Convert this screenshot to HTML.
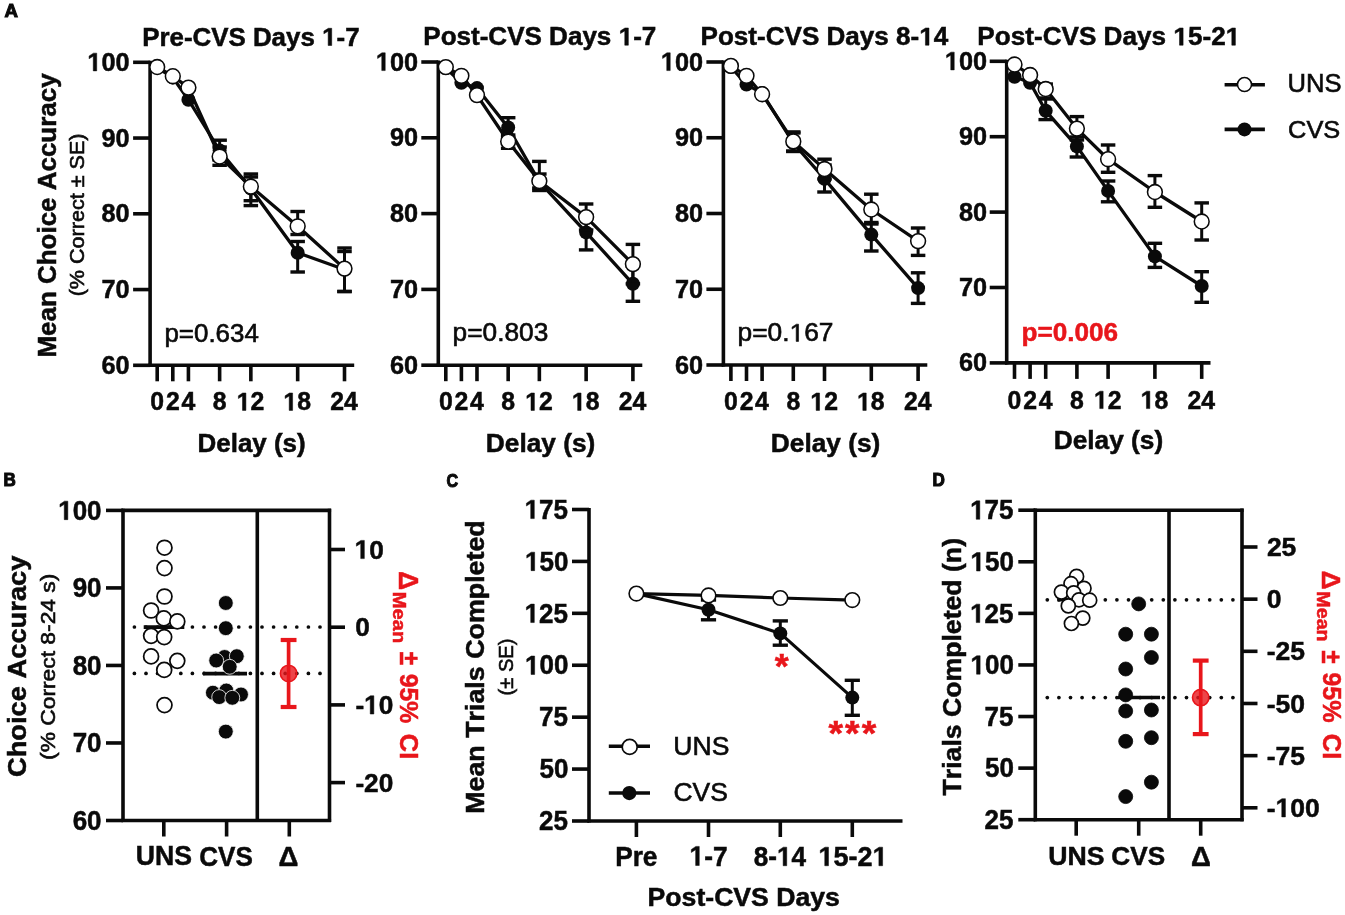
<!DOCTYPE html>
<html><head><meta charset="utf-8"><style>
html,body{margin:0;padding:0;background:#fff;}
svg{display:block;will-change:transform;}
text{font-family:"Liberation Sans",sans-serif;font-kerning:none;}
</style></head><body>
<svg width="1345" height="915" viewBox="0 0 1345 915">
<rect width="1345" height="915" fill="#fff"/>
<g transform="translate(4.44 16.80) scale(0.9711 1)" fill="#0a0a0a" stroke="#0a0a0a"><text x="0.000" font-size="19.19" font-weight="bold" stroke-width="1.10">A</text></g>
<line x1="150.10" y1="60.70" x2="150.10" y2="366.90" stroke="#0a0a0a" stroke-width="3.60" stroke-linecap="butt"/>
<line x1="148.50" y1="365.30" x2="354.20" y2="365.30" stroke="#0a0a0a" stroke-width="3.60" stroke-linecap="butt"/>
<line x1="133.10" y1="62.30" x2="150.10" y2="62.30" stroke="#0a0a0a" stroke-width="3.60" stroke-linecap="butt"/>
<g transform="translate(87.35 70.88) scale(0.9800 1)" fill="#0a0a0a" stroke="#0a0a0a"><path transform="translate(0.000 0) scale(0.01260 -0.01260)" d="M478 0L478 1170L140 959L140 1180L493 1409L759 1409L759 0Z" stroke-width="39.69"/><text x="14.349" font-size="25.80" font-weight="bold" stroke-width="0.50">00</text></g>
<line x1="133.10" y1="138.05" x2="150.10" y2="138.05" stroke="#0a0a0a" stroke-width="3.60" stroke-linecap="butt"/>
<g transform="translate(101.41 146.63) scale(0.9800 1)" fill="#0a0a0a" stroke="#0a0a0a"><text x="0.000" font-size="25.80" font-weight="bold" stroke-width="0.50">90</text></g>
<line x1="133.10" y1="213.80" x2="150.10" y2="213.80" stroke="#0a0a0a" stroke-width="3.60" stroke-linecap="butt"/>
<g transform="translate(101.41 222.38) scale(0.9800 1)" fill="#0a0a0a" stroke="#0a0a0a"><text x="0.000" font-size="25.80" font-weight="bold" stroke-width="0.50">80</text></g>
<line x1="133.10" y1="289.55" x2="150.10" y2="289.55" stroke="#0a0a0a" stroke-width="3.60" stroke-linecap="butt"/>
<g transform="translate(101.41 298.13) scale(0.9800 1)" fill="#0a0a0a" stroke="#0a0a0a"><text x="0.000" font-size="25.80" font-weight="bold" stroke-width="0.50">70</text></g>
<line x1="133.10" y1="365.30" x2="150.10" y2="365.30" stroke="#0a0a0a" stroke-width="3.60" stroke-linecap="butt"/>
<g transform="translate(101.41 373.88) scale(0.9800 1)" fill="#0a0a0a" stroke="#0a0a0a"><text x="0.000" font-size="25.80" font-weight="bold" stroke-width="0.50">60</text></g>
<line x1="157.20" y1="365.30" x2="157.20" y2="381.30" stroke="#0a0a0a" stroke-width="3.60" stroke-linecap="butt"/>
<g transform="translate(150.32 410.40) scale(0.9800 1)" fill="#0a0a0a" stroke="#0a0a0a"><text x="0.000" font-size="25.30" font-weight="bold" stroke-width="0.50">0</text></g>
<line x1="172.81" y1="365.30" x2="172.81" y2="381.30" stroke="#0a0a0a" stroke-width="3.60" stroke-linecap="butt"/>
<g transform="translate(165.98 410.40) scale(0.9800 1)" fill="#0a0a0a" stroke="#0a0a0a"><text x="0.000" font-size="25.30" font-weight="bold" stroke-width="0.50">2</text></g>
<line x1="188.42" y1="365.30" x2="188.42" y2="381.30" stroke="#0a0a0a" stroke-width="3.60" stroke-linecap="butt"/>
<g transform="translate(181.40 410.40) scale(0.9800 1)" fill="#0a0a0a" stroke="#0a0a0a"><text x="0.000" font-size="25.30" font-weight="bold" stroke-width="0.50">4</text></g>
<line x1="219.63" y1="365.30" x2="219.63" y2="381.30" stroke="#0a0a0a" stroke-width="3.60" stroke-linecap="butt"/>
<g transform="translate(212.73 410.40) scale(0.9800 1)" fill="#0a0a0a" stroke="#0a0a0a"><text x="0.000" font-size="25.30" font-weight="bold" stroke-width="0.50">8</text></g>
<line x1="250.85" y1="365.30" x2="250.85" y2="381.30" stroke="#0a0a0a" stroke-width="3.60" stroke-linecap="butt"/>
<g transform="translate(236.71 410.40) scale(0.9800 1)" fill="#0a0a0a" stroke="#0a0a0a"><path transform="translate(0.000 0) scale(0.01235 -0.01235)" d="M478 0L478 1170L140 959L140 1180L493 1409L759 1409L759 0Z" stroke-width="40.47"/><text x="14.071" font-size="25.30" font-weight="bold" stroke-width="0.50">2</text></g>
<line x1="297.67" y1="365.30" x2="297.67" y2="381.30" stroke="#0a0a0a" stroke-width="3.60" stroke-linecap="butt"/>
<g transform="translate(283.42 410.40) scale(0.9800 1)" fill="#0a0a0a" stroke="#0a0a0a"><path transform="translate(0.000 0) scale(0.01235 -0.01235)" d="M478 0L478 1170L140 959L140 1180L493 1409L759 1409L759 0Z" stroke-width="40.47"/><text x="14.071" font-size="25.30" font-weight="bold" stroke-width="0.50">8</text></g>
<line x1="344.50" y1="365.30" x2="344.50" y2="381.30" stroke="#0a0a0a" stroke-width="3.60" stroke-linecap="butt"/>
<g transform="translate(330.34 410.40) scale(0.9800 1)" fill="#0a0a0a" stroke="#0a0a0a"><text x="0.000" font-size="25.30" font-weight="bold" stroke-width="0.50">24</text></g>
<g transform="translate(142.17 45.50) scale(1.0360 1)" fill="#0a0a0a" stroke="#0a0a0a"><text x="0.000" font-size="25.00" font-weight="bold" stroke-width="0.50">Pre-CVS Days </text><path transform="translate(173.694 0) scale(0.01221 -0.01221)" d="M478 0L478 1170L140 959L140 1180L493 1409L759 1409L759 0Z" stroke-width="40.96"/><text x="187.598" font-size="25.00" font-weight="bold" stroke-width="0.50">-7</text></g>
<g transform="translate(197.56 452.10) scale(1.0376 1)" fill="#0a0a0a" stroke="#0a0a0a"><text x="0.000" font-size="25.00" font-weight="bold" stroke-width="0.50">Delay (s)</text></g>
<g transform="translate(164.43 341.80) scale(1.0370 1)" fill="#0a0a0a" stroke="#0a0a0a"><text x="0.000" font-size="25.00" font-weight="normal" stroke-width="0.60">p=0.634</text></g>
<polyline points="157.20,67.50 172.81,77.50 188.42,99.70 219.63,150.50 250.85,188.50 297.67,252.80 344.50,269.50" fill="none" stroke="#0a0a0a" stroke-width="3.30" stroke-linejoin="round"/>
<line x1="219.63" y1="140.20" x2="219.63" y2="160.00" stroke="#0a0a0a" stroke-width="3.00" stroke-linecap="butt"/>
<line x1="212.38" y1="140.20" x2="226.88" y2="140.20" stroke="#0a0a0a" stroke-width="3.40" stroke-linecap="butt"/>
<line x1="212.38" y1="160.00" x2="226.88" y2="160.00" stroke="#0a0a0a" stroke-width="3.40" stroke-linecap="butt"/>
<line x1="250.85" y1="174.00" x2="250.85" y2="205.60" stroke="#0a0a0a" stroke-width="3.00" stroke-linecap="butt"/>
<line x1="243.60" y1="174.00" x2="258.10" y2="174.00" stroke="#0a0a0a" stroke-width="3.40" stroke-linecap="butt"/>
<line x1="243.60" y1="205.60" x2="258.10" y2="205.60" stroke="#0a0a0a" stroke-width="3.40" stroke-linecap="butt"/>
<line x1="297.67" y1="241.50" x2="297.67" y2="272.00" stroke="#0a0a0a" stroke-width="3.00" stroke-linecap="butt"/>
<line x1="290.42" y1="241.50" x2="304.92" y2="241.50" stroke="#0a0a0a" stroke-width="3.40" stroke-linecap="butt"/>
<line x1="290.42" y1="272.00" x2="304.92" y2="272.00" stroke="#0a0a0a" stroke-width="3.40" stroke-linecap="butt"/>
<line x1="344.50" y1="248.00" x2="344.50" y2="291.50" stroke="#0a0a0a" stroke-width="3.00" stroke-linecap="butt"/>
<line x1="337.25" y1="248.00" x2="351.75" y2="248.00" stroke="#0a0a0a" stroke-width="3.40" stroke-linecap="butt"/>
<line x1="337.25" y1="291.50" x2="351.75" y2="291.50" stroke="#0a0a0a" stroke-width="3.40" stroke-linecap="butt"/>
<circle cx="157.20" cy="67.50" r="7.00" fill="#0a0a0a" stroke="none" stroke-width="0.00"/>
<circle cx="172.81" cy="77.50" r="7.00" fill="#0a0a0a" stroke="none" stroke-width="0.00"/>
<circle cx="188.42" cy="99.70" r="7.00" fill="#0a0a0a" stroke="none" stroke-width="0.00"/>
<circle cx="219.63" cy="150.50" r="7.00" fill="#0a0a0a" stroke="none" stroke-width="0.00"/>
<circle cx="250.85" cy="188.50" r="7.00" fill="#0a0a0a" stroke="none" stroke-width="0.00"/>
<circle cx="297.67" cy="252.80" r="7.00" fill="#0a0a0a" stroke="none" stroke-width="0.00"/>
<circle cx="344.50" cy="269.50" r="7.00" fill="#0a0a0a" stroke="none" stroke-width="0.00"/>
<polyline points="157.20,67.00 172.81,76.20 188.42,87.60 219.63,156.50 250.85,186.50 297.67,226.30 344.50,268.60" fill="none" stroke="#0a0a0a" stroke-width="3.30" stroke-linejoin="round"/>
<line x1="219.63" y1="147.00" x2="219.63" y2="165.30" stroke="#0a0a0a" stroke-width="3.00" stroke-linecap="butt"/>
<line x1="212.38" y1="147.00" x2="226.88" y2="147.00" stroke="#0a0a0a" stroke-width="3.40" stroke-linecap="butt"/>
<line x1="212.38" y1="165.30" x2="226.88" y2="165.30" stroke="#0a0a0a" stroke-width="3.40" stroke-linecap="butt"/>
<line x1="250.85" y1="177.00" x2="250.85" y2="200.70" stroke="#0a0a0a" stroke-width="3.00" stroke-linecap="butt"/>
<line x1="243.60" y1="177.00" x2="258.10" y2="177.00" stroke="#0a0a0a" stroke-width="3.40" stroke-linecap="butt"/>
<line x1="243.60" y1="200.70" x2="258.10" y2="200.70" stroke="#0a0a0a" stroke-width="3.40" stroke-linecap="butt"/>
<line x1="297.67" y1="211.50" x2="297.67" y2="234.50" stroke="#0a0a0a" stroke-width="3.00" stroke-linecap="butt"/>
<line x1="290.42" y1="211.50" x2="304.92" y2="211.50" stroke="#0a0a0a" stroke-width="3.40" stroke-linecap="butt"/>
<line x1="290.42" y1="234.50" x2="304.92" y2="234.50" stroke="#0a0a0a" stroke-width="3.40" stroke-linecap="butt"/>
<line x1="344.50" y1="251.50" x2="344.50" y2="291.50" stroke="#0a0a0a" stroke-width="3.00" stroke-linecap="butt"/>
<line x1="337.25" y1="251.50" x2="351.75" y2="251.50" stroke="#0a0a0a" stroke-width="3.40" stroke-linecap="butt"/>
<line x1="337.25" y1="291.50" x2="351.75" y2="291.50" stroke="#0a0a0a" stroke-width="3.40" stroke-linecap="butt"/>
<circle cx="157.20" cy="67.00" r="7.40" fill="#fff" stroke="#0a0a0a" stroke-width="1.55"/>
<circle cx="172.81" cy="76.20" r="7.40" fill="#fff" stroke="#0a0a0a" stroke-width="1.55"/>
<circle cx="188.42" cy="87.60" r="7.40" fill="#fff" stroke="#0a0a0a" stroke-width="1.55"/>
<circle cx="219.63" cy="156.50" r="7.40" fill="#fff" stroke="#0a0a0a" stroke-width="1.55"/>
<circle cx="250.85" cy="186.50" r="7.40" fill="#fff" stroke="#0a0a0a" stroke-width="1.55"/>
<circle cx="297.67" cy="226.30" r="7.40" fill="#fff" stroke="#0a0a0a" stroke-width="1.55"/>
<circle cx="344.50" cy="268.60" r="7.40" fill="#fff" stroke="#0a0a0a" stroke-width="1.55"/>
<line x1="438.30" y1="60.40" x2="438.30" y2="366.80" stroke="#0a0a0a" stroke-width="3.60" stroke-linecap="butt"/>
<line x1="436.70" y1="365.20" x2="642.30" y2="365.20" stroke="#0a0a0a" stroke-width="3.60" stroke-linecap="butt"/>
<line x1="421.30" y1="62.00" x2="438.30" y2="62.00" stroke="#0a0a0a" stroke-width="3.60" stroke-linecap="butt"/>
<g transform="translate(375.85 70.58) scale(0.9800 1)" fill="#0a0a0a" stroke="#0a0a0a"><path transform="translate(0.000 0) scale(0.01260 -0.01260)" d="M478 0L478 1170L140 959L140 1180L493 1409L759 1409L759 0Z" stroke-width="39.69"/><text x="14.349" font-size="25.80" font-weight="bold" stroke-width="0.50">00</text></g>
<line x1="421.30" y1="137.80" x2="438.30" y2="137.80" stroke="#0a0a0a" stroke-width="3.60" stroke-linecap="butt"/>
<g transform="translate(389.91 146.38) scale(0.9800 1)" fill="#0a0a0a" stroke="#0a0a0a"><text x="0.000" font-size="25.80" font-weight="bold" stroke-width="0.50">90</text></g>
<line x1="421.30" y1="213.60" x2="438.30" y2="213.60" stroke="#0a0a0a" stroke-width="3.60" stroke-linecap="butt"/>
<g transform="translate(389.91 222.18) scale(0.9800 1)" fill="#0a0a0a" stroke="#0a0a0a"><text x="0.000" font-size="25.80" font-weight="bold" stroke-width="0.50">80</text></g>
<line x1="421.30" y1="289.40" x2="438.30" y2="289.40" stroke="#0a0a0a" stroke-width="3.60" stroke-linecap="butt"/>
<g transform="translate(389.91 297.98) scale(0.9800 1)" fill="#0a0a0a" stroke="#0a0a0a"><text x="0.000" font-size="25.80" font-weight="bold" stroke-width="0.50">70</text></g>
<line x1="421.30" y1="365.20" x2="438.30" y2="365.20" stroke="#0a0a0a" stroke-width="3.60" stroke-linecap="butt"/>
<g transform="translate(389.91 373.78) scale(0.9800 1)" fill="#0a0a0a" stroke="#0a0a0a"><text x="0.000" font-size="25.80" font-weight="bold" stroke-width="0.50">60</text></g>
<line x1="445.80" y1="365.20" x2="445.80" y2="381.20" stroke="#0a0a0a" stroke-width="3.60" stroke-linecap="butt"/>
<g transform="translate(438.92 410.40) scale(0.9800 1)" fill="#0a0a0a" stroke="#0a0a0a"><text x="0.000" font-size="25.30" font-weight="bold" stroke-width="0.50">0</text></g>
<line x1="461.39" y1="365.20" x2="461.39" y2="381.20" stroke="#0a0a0a" stroke-width="3.60" stroke-linecap="butt"/>
<g transform="translate(454.56 410.40) scale(0.9800 1)" fill="#0a0a0a" stroke="#0a0a0a"><text x="0.000" font-size="25.30" font-weight="bold" stroke-width="0.50">2</text></g>
<line x1="476.98" y1="365.20" x2="476.98" y2="381.20" stroke="#0a0a0a" stroke-width="3.60" stroke-linecap="butt"/>
<g transform="translate(469.97 410.40) scale(0.9800 1)" fill="#0a0a0a" stroke="#0a0a0a"><text x="0.000" font-size="25.30" font-weight="bold" stroke-width="0.50">4</text></g>
<line x1="508.17" y1="365.20" x2="508.17" y2="381.20" stroke="#0a0a0a" stroke-width="3.60" stroke-linecap="butt"/>
<g transform="translate(501.26 410.40) scale(0.9800 1)" fill="#0a0a0a" stroke="#0a0a0a"><text x="0.000" font-size="25.30" font-weight="bold" stroke-width="0.50">8</text></g>
<line x1="539.35" y1="365.20" x2="539.35" y2="381.20" stroke="#0a0a0a" stroke-width="3.60" stroke-linecap="butt"/>
<g transform="translate(525.21 410.40) scale(0.9800 1)" fill="#0a0a0a" stroke="#0a0a0a"><path transform="translate(0.000 0) scale(0.01235 -0.01235)" d="M478 0L478 1170L140 959L140 1180L493 1409L759 1409L759 0Z" stroke-width="40.47"/><text x="14.071" font-size="25.30" font-weight="bold" stroke-width="0.50">2</text></g>
<line x1="586.13" y1="365.20" x2="586.13" y2="381.20" stroke="#0a0a0a" stroke-width="3.60" stroke-linecap="butt"/>
<g transform="translate(571.87 410.40) scale(0.9800 1)" fill="#0a0a0a" stroke="#0a0a0a"><path transform="translate(0.000 0) scale(0.01235 -0.01235)" d="M478 0L478 1170L140 959L140 1180L493 1409L759 1409L759 0Z" stroke-width="40.47"/><text x="14.071" font-size="25.30" font-weight="bold" stroke-width="0.50">8</text></g>
<line x1="632.90" y1="365.20" x2="632.90" y2="381.20" stroke="#0a0a0a" stroke-width="3.60" stroke-linecap="butt"/>
<g transform="translate(618.75 410.40) scale(0.9800 1)" fill="#0a0a0a" stroke="#0a0a0a"><text x="0.000" font-size="25.30" font-weight="bold" stroke-width="0.50">24</text></g>
<g transform="translate(423.26 45.20) scale(1.0420 1)" fill="#0a0a0a" stroke="#0a0a0a"><text x="0.000" font-size="25.00" font-weight="bold" stroke-width="0.50">Post-CVS Days </text><path transform="translate(187.561 0) scale(0.01221 -0.01221)" d="M478 0L478 1170L140 959L140 1180L493 1409L759 1409L759 0Z" stroke-width="40.96"/><text x="201.465" font-size="25.00" font-weight="bold" stroke-width="0.50">-7</text></g>
<g transform="translate(485.84 452.10) scale(1.0504 1)" fill="#0a0a0a" stroke="#0a0a0a"><text x="0.000" font-size="25.00" font-weight="bold" stroke-width="0.50">Delay (s)</text></g>
<g transform="translate(452.61 341.40) scale(1.0514 1)" fill="#0a0a0a" stroke="#0a0a0a"><text x="0.000" font-size="25.00" font-weight="normal" stroke-width="0.60">p=0.803</text></g>
<polyline points="445.80,68.00 461.39,82.80 476.98,88.10 508.17,127.50 539.35,181.80 586.13,232.40 632.90,283.80" fill="none" stroke="#0a0a0a" stroke-width="3.30" stroke-linejoin="round"/>
<line x1="508.17" y1="117.70" x2="508.17" y2="137.30" stroke="#0a0a0a" stroke-width="3.00" stroke-linecap="butt"/>
<line x1="500.92" y1="117.70" x2="515.42" y2="117.70" stroke="#0a0a0a" stroke-width="3.40" stroke-linecap="butt"/>
<line x1="500.92" y1="137.30" x2="515.42" y2="137.30" stroke="#0a0a0a" stroke-width="3.40" stroke-linecap="butt"/>
<line x1="539.35" y1="161.40" x2="539.35" y2="190.50" stroke="#0a0a0a" stroke-width="3.00" stroke-linecap="butt"/>
<line x1="532.10" y1="161.40" x2="546.60" y2="161.40" stroke="#0a0a0a" stroke-width="3.40" stroke-linecap="butt"/>
<line x1="532.10" y1="190.50" x2="546.60" y2="190.50" stroke="#0a0a0a" stroke-width="3.40" stroke-linecap="butt"/>
<line x1="586.13" y1="215.00" x2="586.13" y2="249.90" stroke="#0a0a0a" stroke-width="3.00" stroke-linecap="butt"/>
<line x1="578.88" y1="215.00" x2="593.38" y2="215.00" stroke="#0a0a0a" stroke-width="3.40" stroke-linecap="butt"/>
<line x1="578.88" y1="249.90" x2="593.38" y2="249.90" stroke="#0a0a0a" stroke-width="3.40" stroke-linecap="butt"/>
<line x1="632.90" y1="266.30" x2="632.90" y2="301.30" stroke="#0a0a0a" stroke-width="3.00" stroke-linecap="butt"/>
<line x1="625.65" y1="266.30" x2="640.15" y2="266.30" stroke="#0a0a0a" stroke-width="3.40" stroke-linecap="butt"/>
<line x1="625.65" y1="301.30" x2="640.15" y2="301.30" stroke="#0a0a0a" stroke-width="3.40" stroke-linecap="butt"/>
<circle cx="445.80" cy="68.00" r="7.00" fill="#0a0a0a" stroke="none" stroke-width="0.00"/>
<circle cx="461.39" cy="82.80" r="7.00" fill="#0a0a0a" stroke="none" stroke-width="0.00"/>
<circle cx="476.98" cy="88.10" r="7.00" fill="#0a0a0a" stroke="none" stroke-width="0.00"/>
<circle cx="508.17" cy="127.50" r="7.00" fill="#0a0a0a" stroke="none" stroke-width="0.00"/>
<circle cx="539.35" cy="181.80" r="7.00" fill="#0a0a0a" stroke="none" stroke-width="0.00"/>
<circle cx="586.13" cy="232.40" r="7.00" fill="#0a0a0a" stroke="none" stroke-width="0.00"/>
<circle cx="632.90" cy="283.80" r="7.00" fill="#0a0a0a" stroke="none" stroke-width="0.00"/>
<polyline points="445.80,67.10 461.39,75.80 476.98,95.10 508.17,141.50 539.35,181.00 586.13,217.10 632.90,264.10" fill="none" stroke="#0a0a0a" stroke-width="3.30" stroke-linejoin="round"/>
<line x1="508.17" y1="135.00" x2="508.17" y2="148.30" stroke="#0a0a0a" stroke-width="3.00" stroke-linecap="butt"/>
<line x1="500.92" y1="135.00" x2="515.42" y2="135.00" stroke="#0a0a0a" stroke-width="3.40" stroke-linecap="butt"/>
<line x1="500.92" y1="148.30" x2="515.42" y2="148.30" stroke="#0a0a0a" stroke-width="3.40" stroke-linecap="butt"/>
<line x1="539.35" y1="174.00" x2="539.35" y2="188.00" stroke="#0a0a0a" stroke-width="3.00" stroke-linecap="butt"/>
<line x1="532.10" y1="174.00" x2="546.60" y2="174.00" stroke="#0a0a0a" stroke-width="3.40" stroke-linecap="butt"/>
<line x1="532.10" y1="188.00" x2="546.60" y2="188.00" stroke="#0a0a0a" stroke-width="3.40" stroke-linecap="butt"/>
<line x1="586.13" y1="204.00" x2="586.13" y2="230.00" stroke="#0a0a0a" stroke-width="3.00" stroke-linecap="butt"/>
<line x1="578.88" y1="204.00" x2="593.38" y2="204.00" stroke="#0a0a0a" stroke-width="3.40" stroke-linecap="butt"/>
<line x1="578.88" y1="230.00" x2="593.38" y2="230.00" stroke="#0a0a0a" stroke-width="3.40" stroke-linecap="butt"/>
<line x1="632.90" y1="244.40" x2="632.90" y2="283.80" stroke="#0a0a0a" stroke-width="3.00" stroke-linecap="butt"/>
<line x1="625.65" y1="244.40" x2="640.15" y2="244.40" stroke="#0a0a0a" stroke-width="3.40" stroke-linecap="butt"/>
<line x1="625.65" y1="283.80" x2="640.15" y2="283.80" stroke="#0a0a0a" stroke-width="3.40" stroke-linecap="butt"/>
<circle cx="445.80" cy="67.10" r="7.40" fill="#fff" stroke="#0a0a0a" stroke-width="1.55"/>
<circle cx="461.39" cy="75.80" r="7.40" fill="#fff" stroke="#0a0a0a" stroke-width="1.55"/>
<circle cx="476.98" cy="95.10" r="7.40" fill="#fff" stroke="#0a0a0a" stroke-width="1.55"/>
<circle cx="508.17" cy="141.50" r="7.40" fill="#fff" stroke="#0a0a0a" stroke-width="1.55"/>
<circle cx="539.35" cy="181.00" r="7.40" fill="#fff" stroke="#0a0a0a" stroke-width="1.55"/>
<circle cx="586.13" cy="217.10" r="7.40" fill="#fff" stroke="#0a0a0a" stroke-width="1.55"/>
<circle cx="632.90" cy="264.10" r="7.40" fill="#fff" stroke="#0a0a0a" stroke-width="1.55"/>
<line x1="723.40" y1="60.40" x2="723.40" y2="366.60" stroke="#0a0a0a" stroke-width="3.60" stroke-linecap="butt"/>
<line x1="721.80" y1="365.00" x2="927.30" y2="365.00" stroke="#0a0a0a" stroke-width="3.60" stroke-linecap="butt"/>
<line x1="706.40" y1="62.00" x2="723.40" y2="62.00" stroke="#0a0a0a" stroke-width="3.60" stroke-linecap="butt"/>
<g transform="translate(660.85 70.58) scale(0.9800 1)" fill="#0a0a0a" stroke="#0a0a0a"><path transform="translate(0.000 0) scale(0.01260 -0.01260)" d="M478 0L478 1170L140 959L140 1180L493 1409L759 1409L759 0Z" stroke-width="39.69"/><text x="14.349" font-size="25.80" font-weight="bold" stroke-width="0.50">00</text></g>
<line x1="706.40" y1="137.75" x2="723.40" y2="137.75" stroke="#0a0a0a" stroke-width="3.60" stroke-linecap="butt"/>
<g transform="translate(674.91 146.33) scale(0.9800 1)" fill="#0a0a0a" stroke="#0a0a0a"><text x="0.000" font-size="25.80" font-weight="bold" stroke-width="0.50">90</text></g>
<line x1="706.40" y1="213.50" x2="723.40" y2="213.50" stroke="#0a0a0a" stroke-width="3.60" stroke-linecap="butt"/>
<g transform="translate(674.91 222.08) scale(0.9800 1)" fill="#0a0a0a" stroke="#0a0a0a"><text x="0.000" font-size="25.80" font-weight="bold" stroke-width="0.50">80</text></g>
<line x1="706.40" y1="289.25" x2="723.40" y2="289.25" stroke="#0a0a0a" stroke-width="3.60" stroke-linecap="butt"/>
<g transform="translate(674.91 297.83) scale(0.9800 1)" fill="#0a0a0a" stroke="#0a0a0a"><text x="0.000" font-size="25.80" font-weight="bold" stroke-width="0.50">70</text></g>
<line x1="706.40" y1="365.00" x2="723.40" y2="365.00" stroke="#0a0a0a" stroke-width="3.60" stroke-linecap="butt"/>
<g transform="translate(674.91 373.58) scale(0.9800 1)" fill="#0a0a0a" stroke="#0a0a0a"><text x="0.000" font-size="25.80" font-weight="bold" stroke-width="0.50">60</text></g>
<line x1="730.90" y1="365.00" x2="730.90" y2="381.00" stroke="#0a0a0a" stroke-width="3.60" stroke-linecap="butt"/>
<g transform="translate(724.02 410.40) scale(0.9800 1)" fill="#0a0a0a" stroke="#0a0a0a"><text x="0.000" font-size="25.30" font-weight="bold" stroke-width="0.50">0</text></g>
<line x1="746.50" y1="365.00" x2="746.50" y2="381.00" stroke="#0a0a0a" stroke-width="3.60" stroke-linecap="butt"/>
<g transform="translate(739.67 410.40) scale(0.9800 1)" fill="#0a0a0a" stroke="#0a0a0a"><text x="0.000" font-size="25.30" font-weight="bold" stroke-width="0.50">2</text></g>
<line x1="762.10" y1="365.00" x2="762.10" y2="381.00" stroke="#0a0a0a" stroke-width="3.60" stroke-linecap="butt"/>
<g transform="translate(755.08 410.40) scale(0.9800 1)" fill="#0a0a0a" stroke="#0a0a0a"><text x="0.000" font-size="25.30" font-weight="bold" stroke-width="0.50">4</text></g>
<line x1="793.30" y1="365.00" x2="793.30" y2="381.00" stroke="#0a0a0a" stroke-width="3.60" stroke-linecap="butt"/>
<g transform="translate(786.39 410.40) scale(0.9800 1)" fill="#0a0a0a" stroke="#0a0a0a"><text x="0.000" font-size="25.30" font-weight="bold" stroke-width="0.50">8</text></g>
<line x1="824.50" y1="365.00" x2="824.50" y2="381.00" stroke="#0a0a0a" stroke-width="3.60" stroke-linecap="butt"/>
<g transform="translate(810.36 410.40) scale(0.9800 1)" fill="#0a0a0a" stroke="#0a0a0a"><path transform="translate(0.000 0) scale(0.01235 -0.01235)" d="M478 0L478 1170L140 959L140 1180L493 1409L759 1409L759 0Z" stroke-width="40.47"/><text x="14.071" font-size="25.30" font-weight="bold" stroke-width="0.50">2</text></g>
<line x1="871.30" y1="365.00" x2="871.30" y2="381.00" stroke="#0a0a0a" stroke-width="3.60" stroke-linecap="butt"/>
<g transform="translate(857.04 410.40) scale(0.9800 1)" fill="#0a0a0a" stroke="#0a0a0a"><path transform="translate(0.000 0) scale(0.01235 -0.01235)" d="M478 0L478 1170L140 959L140 1180L493 1409L759 1409L759 0Z" stroke-width="40.47"/><text x="14.071" font-size="25.30" font-weight="bold" stroke-width="0.50">8</text></g>
<line x1="918.10" y1="365.00" x2="918.10" y2="381.00" stroke="#0a0a0a" stroke-width="3.60" stroke-linecap="butt"/>
<g transform="translate(903.95 410.40) scale(0.9800 1)" fill="#0a0a0a" stroke="#0a0a0a"><text x="0.000" font-size="25.30" font-weight="bold" stroke-width="0.50">24</text></g>
<g transform="translate(700.56 45.20) scale(1.0429 1)" fill="#0a0a0a" stroke="#0a0a0a"><text x="0.000" font-size="25.00" font-weight="bold" stroke-width="0.50">Post-CVS Days 8-</text><path transform="translate(209.790 0) scale(0.01221 -0.01221)" d="M478 0L478 1170L140 959L140 1180L493 1409L759 1409L759 0Z" stroke-width="40.96"/><text x="223.694" font-size="25.00" font-weight="bold" stroke-width="0.50">4</text></g>
<g transform="translate(770.84 452.10) scale(1.0504 1)" fill="#0a0a0a" stroke="#0a0a0a"><text x="0.000" font-size="25.00" font-weight="bold" stroke-width="0.50">Delay (s)</text></g>
<g transform="translate(737.60 341.40) scale(1.0533 1)" fill="#0a0a0a" stroke="#0a0a0a"><text x="0.000" font-size="25.00" font-weight="normal" stroke-width="0.60">p=0.</text><path transform="translate(49.353 0) scale(0.01221 -0.01221)" d="M515 0L515 1237L197 1010L197 1180L530 1409L696 1409L696 0Z" stroke-width="49.15"/><text x="63.257" font-size="25.00" font-weight="normal" stroke-width="0.60">67</text></g>
<polyline points="730.90,67.00 746.50,84.60 762.10,93.00 793.30,143.00 824.50,178.90 871.30,234.60 918.10,288.10" fill="none" stroke="#0a0a0a" stroke-width="3.30" stroke-linejoin="round"/>
<line x1="793.30" y1="133.00" x2="793.30" y2="151.50" stroke="#0a0a0a" stroke-width="3.00" stroke-linecap="butt"/>
<line x1="786.05" y1="133.00" x2="800.55" y2="133.00" stroke="#0a0a0a" stroke-width="3.40" stroke-linecap="butt"/>
<line x1="786.05" y1="151.50" x2="800.55" y2="151.50" stroke="#0a0a0a" stroke-width="3.40" stroke-linecap="butt"/>
<line x1="824.50" y1="165.00" x2="824.50" y2="192.00" stroke="#0a0a0a" stroke-width="3.00" stroke-linecap="butt"/>
<line x1="817.25" y1="165.00" x2="831.75" y2="165.00" stroke="#0a0a0a" stroke-width="3.40" stroke-linecap="butt"/>
<line x1="817.25" y1="192.00" x2="831.75" y2="192.00" stroke="#0a0a0a" stroke-width="3.40" stroke-linecap="butt"/>
<line x1="871.30" y1="222.50" x2="871.30" y2="251.00" stroke="#0a0a0a" stroke-width="3.00" stroke-linecap="butt"/>
<line x1="864.05" y1="222.50" x2="878.55" y2="222.50" stroke="#0a0a0a" stroke-width="3.40" stroke-linecap="butt"/>
<line x1="864.05" y1="251.00" x2="878.55" y2="251.00" stroke="#0a0a0a" stroke-width="3.40" stroke-linecap="butt"/>
<line x1="918.10" y1="272.80" x2="918.10" y2="303.40" stroke="#0a0a0a" stroke-width="3.00" stroke-linecap="butt"/>
<line x1="910.85" y1="272.80" x2="925.35" y2="272.80" stroke="#0a0a0a" stroke-width="3.40" stroke-linecap="butt"/>
<line x1="910.85" y1="303.40" x2="925.35" y2="303.40" stroke="#0a0a0a" stroke-width="3.40" stroke-linecap="butt"/>
<circle cx="730.90" cy="67.00" r="7.00" fill="#0a0a0a" stroke="none" stroke-width="0.00"/>
<circle cx="746.50" cy="84.60" r="7.00" fill="#0a0a0a" stroke="none" stroke-width="0.00"/>
<circle cx="762.10" cy="93.00" r="7.00" fill="#0a0a0a" stroke="none" stroke-width="0.00"/>
<circle cx="793.30" cy="143.00" r="7.00" fill="#0a0a0a" stroke="none" stroke-width="0.00"/>
<circle cx="824.50" cy="178.90" r="7.00" fill="#0a0a0a" stroke="none" stroke-width="0.00"/>
<circle cx="871.30" cy="234.60" r="7.00" fill="#0a0a0a" stroke="none" stroke-width="0.00"/>
<circle cx="918.10" cy="288.10" r="7.00" fill="#0a0a0a" stroke="none" stroke-width="0.00"/>
<polyline points="730.90,65.90 746.50,75.80 762.10,94.20 793.30,141.40 824.50,169.00 871.30,209.50 918.10,241.10" fill="none" stroke="#0a0a0a" stroke-width="3.30" stroke-linejoin="round"/>
<line x1="793.30" y1="131.90" x2="793.30" y2="151.00" stroke="#0a0a0a" stroke-width="3.00" stroke-linecap="butt"/>
<line x1="786.05" y1="131.90" x2="800.55" y2="131.90" stroke="#0a0a0a" stroke-width="3.40" stroke-linecap="butt"/>
<line x1="786.05" y1="151.00" x2="800.55" y2="151.00" stroke="#0a0a0a" stroke-width="3.40" stroke-linecap="butt"/>
<line x1="824.50" y1="159.20" x2="824.50" y2="179.00" stroke="#0a0a0a" stroke-width="3.00" stroke-linecap="butt"/>
<line x1="817.25" y1="159.20" x2="831.75" y2="159.20" stroke="#0a0a0a" stroke-width="3.40" stroke-linecap="butt"/>
<line x1="817.25" y1="179.00" x2="831.75" y2="179.00" stroke="#0a0a0a" stroke-width="3.40" stroke-linecap="butt"/>
<line x1="871.30" y1="194.20" x2="871.30" y2="224.00" stroke="#0a0a0a" stroke-width="3.00" stroke-linecap="butt"/>
<line x1="864.05" y1="194.20" x2="878.55" y2="194.20" stroke="#0a0a0a" stroke-width="3.40" stroke-linecap="butt"/>
<line x1="864.05" y1="224.00" x2="878.55" y2="224.00" stroke="#0a0a0a" stroke-width="3.40" stroke-linecap="butt"/>
<line x1="918.10" y1="228.00" x2="918.10" y2="255.40" stroke="#0a0a0a" stroke-width="3.00" stroke-linecap="butt"/>
<line x1="910.85" y1="228.00" x2="925.35" y2="228.00" stroke="#0a0a0a" stroke-width="3.40" stroke-linecap="butt"/>
<line x1="910.85" y1="255.40" x2="925.35" y2="255.40" stroke="#0a0a0a" stroke-width="3.40" stroke-linecap="butt"/>
<circle cx="730.90" cy="65.90" r="7.40" fill="#fff" stroke="#0a0a0a" stroke-width="1.55"/>
<circle cx="746.50" cy="75.80" r="7.40" fill="#fff" stroke="#0a0a0a" stroke-width="1.55"/>
<circle cx="762.10" cy="94.20" r="7.40" fill="#fff" stroke="#0a0a0a" stroke-width="1.55"/>
<circle cx="793.30" cy="141.40" r="7.40" fill="#fff" stroke="#0a0a0a" stroke-width="1.55"/>
<circle cx="824.50" cy="169.00" r="7.40" fill="#fff" stroke="#0a0a0a" stroke-width="1.55"/>
<circle cx="871.30" cy="209.50" r="7.40" fill="#fff" stroke="#0a0a0a" stroke-width="1.55"/>
<circle cx="918.10" cy="241.10" r="7.40" fill="#fff" stroke="#0a0a0a" stroke-width="1.55"/>
<line x1="1006.70" y1="59.70" x2="1006.70" y2="364.50" stroke="#0a0a0a" stroke-width="3.60" stroke-linecap="butt"/>
<line x1="1005.10" y1="362.90" x2="1210.50" y2="362.90" stroke="#0a0a0a" stroke-width="3.60" stroke-linecap="butt"/>
<line x1="989.70" y1="61.30" x2="1006.70" y2="61.30" stroke="#0a0a0a" stroke-width="3.60" stroke-linecap="butt"/>
<g transform="translate(944.85 69.88) scale(0.9800 1)" fill="#0a0a0a" stroke="#0a0a0a"><path transform="translate(0.000 0) scale(0.01260 -0.01260)" d="M478 0L478 1170L140 959L140 1180L493 1409L759 1409L759 0Z" stroke-width="39.69"/><text x="14.349" font-size="25.80" font-weight="bold" stroke-width="0.50">00</text></g>
<line x1="989.70" y1="136.70" x2="1006.70" y2="136.70" stroke="#0a0a0a" stroke-width="3.60" stroke-linecap="butt"/>
<g transform="translate(958.91 145.28) scale(0.9800 1)" fill="#0a0a0a" stroke="#0a0a0a"><text x="0.000" font-size="25.80" font-weight="bold" stroke-width="0.50">90</text></g>
<line x1="989.70" y1="212.10" x2="1006.70" y2="212.10" stroke="#0a0a0a" stroke-width="3.60" stroke-linecap="butt"/>
<g transform="translate(958.91 220.68) scale(0.9800 1)" fill="#0a0a0a" stroke="#0a0a0a"><text x="0.000" font-size="25.80" font-weight="bold" stroke-width="0.50">80</text></g>
<line x1="989.70" y1="287.50" x2="1006.70" y2="287.50" stroke="#0a0a0a" stroke-width="3.60" stroke-linecap="butt"/>
<g transform="translate(958.91 296.08) scale(0.9800 1)" fill="#0a0a0a" stroke="#0a0a0a"><text x="0.000" font-size="25.80" font-weight="bold" stroke-width="0.50">70</text></g>
<line x1="989.70" y1="362.90" x2="1006.70" y2="362.90" stroke="#0a0a0a" stroke-width="3.60" stroke-linecap="butt"/>
<g transform="translate(958.91 371.48) scale(0.9800 1)" fill="#0a0a0a" stroke="#0a0a0a"><text x="0.000" font-size="25.80" font-weight="bold" stroke-width="0.50">60</text></g>
<line x1="1014.50" y1="362.90" x2="1014.50" y2="378.90" stroke="#0a0a0a" stroke-width="3.60" stroke-linecap="butt"/>
<g transform="translate(1007.62 408.60) scale(0.9800 1)" fill="#0a0a0a" stroke="#0a0a0a"><text x="0.000" font-size="25.30" font-weight="bold" stroke-width="0.50">0</text></g>
<line x1="1030.10" y1="362.90" x2="1030.10" y2="378.90" stroke="#0a0a0a" stroke-width="3.60" stroke-linecap="butt"/>
<g transform="translate(1023.27 408.60) scale(0.9800 1)" fill="#0a0a0a" stroke="#0a0a0a"><text x="0.000" font-size="25.30" font-weight="bold" stroke-width="0.50">2</text></g>
<line x1="1045.70" y1="362.90" x2="1045.70" y2="378.90" stroke="#0a0a0a" stroke-width="3.60" stroke-linecap="butt"/>
<g transform="translate(1038.68 408.60) scale(0.9800 1)" fill="#0a0a0a" stroke="#0a0a0a"><text x="0.000" font-size="25.30" font-weight="bold" stroke-width="0.50">4</text></g>
<line x1="1076.90" y1="362.90" x2="1076.90" y2="378.90" stroke="#0a0a0a" stroke-width="3.60" stroke-linecap="butt"/>
<g transform="translate(1069.99 408.60) scale(0.9800 1)" fill="#0a0a0a" stroke="#0a0a0a"><text x="0.000" font-size="25.30" font-weight="bold" stroke-width="0.50">8</text></g>
<line x1="1108.10" y1="362.90" x2="1108.10" y2="378.90" stroke="#0a0a0a" stroke-width="3.60" stroke-linecap="butt"/>
<g transform="translate(1093.96 408.60) scale(0.9800 1)" fill="#0a0a0a" stroke="#0a0a0a"><path transform="translate(0.000 0) scale(0.01235 -0.01235)" d="M478 0L478 1170L140 959L140 1180L493 1409L759 1409L759 0Z" stroke-width="40.47"/><text x="14.071" font-size="25.30" font-weight="bold" stroke-width="0.50">2</text></g>
<line x1="1154.90" y1="362.90" x2="1154.90" y2="378.90" stroke="#0a0a0a" stroke-width="3.60" stroke-linecap="butt"/>
<g transform="translate(1140.64 408.60) scale(0.9800 1)" fill="#0a0a0a" stroke="#0a0a0a"><path transform="translate(0.000 0) scale(0.01235 -0.01235)" d="M478 0L478 1170L140 959L140 1180L493 1409L759 1409L759 0Z" stroke-width="40.47"/><text x="14.071" font-size="25.30" font-weight="bold" stroke-width="0.50">8</text></g>
<line x1="1201.70" y1="362.90" x2="1201.70" y2="378.90" stroke="#0a0a0a" stroke-width="3.60" stroke-linecap="butt"/>
<g transform="translate(1187.55 408.60) scale(0.9800 1)" fill="#0a0a0a" stroke="#0a0a0a"><text x="0.000" font-size="25.30" font-weight="bold" stroke-width="0.50">24</text></g>
<g transform="translate(977.35 45.20) scale(1.0453 1)" fill="#0a0a0a" stroke="#0a0a0a"><text x="0.000" font-size="25.00" font-weight="bold" stroke-width="0.50">Post-CVS Days </text><path transform="translate(187.561 0) scale(0.01221 -0.01221)" d="M478 0L478 1170L140 959L140 1180L493 1409L759 1409L759 0Z" stroke-width="40.96"/><text x="201.465" font-size="25.00" font-weight="bold" stroke-width="0.50">5-2</text><path transform="translate(237.598 0) scale(0.01221 -0.01221)" d="M478 0L478 1170L140 959L140 1180L493 1409L759 1409L759 0Z" stroke-width="40.96"/></g>
<g transform="translate(1053.74 449.20) scale(1.0504 1)" fill="#0a0a0a" stroke="#0a0a0a"><text x="0.000" font-size="25.00" font-weight="bold" stroke-width="0.50">Delay (s)</text></g>
<g transform="translate(1021.58 340.60) scale(1.0447 1)" fill="#e8161b" stroke="#e8161b"><text x="0.000" font-size="25.00" font-weight="bold" stroke-width="0.50">p=0.006</text></g>
<polyline points="1014.50,76.70 1030.10,82.80 1045.70,110.80 1076.90,146.40 1108.10,190.90 1154.90,256.40 1201.70,286.00" fill="none" stroke="#0a0a0a" stroke-width="3.30" stroke-linejoin="round"/>
<line x1="1045.70" y1="99.00" x2="1045.70" y2="119.60" stroke="#0a0a0a" stroke-width="3.00" stroke-linecap="butt"/>
<line x1="1038.45" y1="99.00" x2="1052.95" y2="99.00" stroke="#0a0a0a" stroke-width="3.40" stroke-linecap="butt"/>
<line x1="1038.45" y1="119.60" x2="1052.95" y2="119.60" stroke="#0a0a0a" stroke-width="3.40" stroke-linecap="butt"/>
<line x1="1076.90" y1="137.00" x2="1076.90" y2="157.00" stroke="#0a0a0a" stroke-width="3.00" stroke-linecap="butt"/>
<line x1="1069.65" y1="137.00" x2="1084.15" y2="137.00" stroke="#0a0a0a" stroke-width="3.40" stroke-linecap="butt"/>
<line x1="1069.65" y1="157.00" x2="1084.15" y2="157.00" stroke="#0a0a0a" stroke-width="3.40" stroke-linecap="butt"/>
<line x1="1108.10" y1="181.00" x2="1108.10" y2="201.80" stroke="#0a0a0a" stroke-width="3.00" stroke-linecap="butt"/>
<line x1="1100.85" y1="181.00" x2="1115.35" y2="181.00" stroke="#0a0a0a" stroke-width="3.40" stroke-linecap="butt"/>
<line x1="1100.85" y1="201.80" x2="1115.35" y2="201.80" stroke="#0a0a0a" stroke-width="3.40" stroke-linecap="butt"/>
<line x1="1154.90" y1="243.30" x2="1154.90" y2="267.40" stroke="#0a0a0a" stroke-width="3.00" stroke-linecap="butt"/>
<line x1="1147.65" y1="243.30" x2="1162.15" y2="243.30" stroke="#0a0a0a" stroke-width="3.40" stroke-linecap="butt"/>
<line x1="1147.65" y1="267.40" x2="1162.15" y2="267.40" stroke="#0a0a0a" stroke-width="3.40" stroke-linecap="butt"/>
<line x1="1201.70" y1="271.70" x2="1201.70" y2="302.30" stroke="#0a0a0a" stroke-width="3.00" stroke-linecap="butt"/>
<line x1="1194.45" y1="271.70" x2="1208.95" y2="271.70" stroke="#0a0a0a" stroke-width="3.40" stroke-linecap="butt"/>
<line x1="1194.45" y1="302.30" x2="1208.95" y2="302.30" stroke="#0a0a0a" stroke-width="3.40" stroke-linecap="butt"/>
<circle cx="1014.50" cy="76.70" r="7.00" fill="#0a0a0a" stroke="none" stroke-width="0.00"/>
<circle cx="1030.10" cy="82.80" r="7.00" fill="#0a0a0a" stroke="none" stroke-width="0.00"/>
<circle cx="1045.70" cy="110.80" r="7.00" fill="#0a0a0a" stroke="none" stroke-width="0.00"/>
<circle cx="1076.90" cy="146.40" r="7.00" fill="#0a0a0a" stroke="none" stroke-width="0.00"/>
<circle cx="1108.10" cy="190.90" r="7.00" fill="#0a0a0a" stroke="none" stroke-width="0.00"/>
<circle cx="1154.90" cy="256.40" r="7.00" fill="#0a0a0a" stroke="none" stroke-width="0.00"/>
<circle cx="1201.70" cy="286.00" r="7.00" fill="#0a0a0a" stroke="none" stroke-width="0.00"/>
<polyline points="1014.50,64.50 1030.10,75.00 1045.70,89.00 1076.90,128.60 1108.10,159.20 1154.90,192.00 1201.70,221.50" fill="none" stroke="#0a0a0a" stroke-width="3.30" stroke-linejoin="round"/>
<line x1="1045.70" y1="84.00" x2="1045.70" y2="98.00" stroke="#0a0a0a" stroke-width="3.00" stroke-linecap="butt"/>
<line x1="1038.45" y1="84.00" x2="1052.95" y2="84.00" stroke="#0a0a0a" stroke-width="3.40" stroke-linecap="butt"/>
<line x1="1038.45" y1="98.00" x2="1052.95" y2="98.00" stroke="#0a0a0a" stroke-width="3.40" stroke-linecap="butt"/>
<line x1="1076.90" y1="116.60" x2="1076.90" y2="140.00" stroke="#0a0a0a" stroke-width="3.00" stroke-linecap="butt"/>
<line x1="1069.65" y1="116.60" x2="1084.15" y2="116.60" stroke="#0a0a0a" stroke-width="3.40" stroke-linecap="butt"/>
<line x1="1069.65" y1="140.00" x2="1084.15" y2="140.00" stroke="#0a0a0a" stroke-width="3.40" stroke-linecap="butt"/>
<line x1="1108.10" y1="145.00" x2="1108.10" y2="172.30" stroke="#0a0a0a" stroke-width="3.00" stroke-linecap="butt"/>
<line x1="1100.85" y1="145.00" x2="1115.35" y2="145.00" stroke="#0a0a0a" stroke-width="3.40" stroke-linecap="butt"/>
<line x1="1100.85" y1="172.30" x2="1115.35" y2="172.30" stroke="#0a0a0a" stroke-width="3.40" stroke-linecap="butt"/>
<line x1="1154.90" y1="175.60" x2="1154.90" y2="207.30" stroke="#0a0a0a" stroke-width="3.00" stroke-linecap="butt"/>
<line x1="1147.65" y1="175.60" x2="1162.15" y2="175.60" stroke="#0a0a0a" stroke-width="3.40" stroke-linecap="butt"/>
<line x1="1147.65" y1="207.30" x2="1162.15" y2="207.30" stroke="#0a0a0a" stroke-width="3.40" stroke-linecap="butt"/>
<line x1="1201.70" y1="202.90" x2="1201.70" y2="240.00" stroke="#0a0a0a" stroke-width="3.00" stroke-linecap="butt"/>
<line x1="1194.45" y1="202.90" x2="1208.95" y2="202.90" stroke="#0a0a0a" stroke-width="3.40" stroke-linecap="butt"/>
<line x1="1194.45" y1="240.00" x2="1208.95" y2="240.00" stroke="#0a0a0a" stroke-width="3.40" stroke-linecap="butt"/>
<circle cx="1014.50" cy="64.50" r="7.40" fill="#fff" stroke="#0a0a0a" stroke-width="1.55"/>
<circle cx="1030.10" cy="75.00" r="7.40" fill="#fff" stroke="#0a0a0a" stroke-width="1.55"/>
<circle cx="1045.70" cy="89.00" r="7.40" fill="#fff" stroke="#0a0a0a" stroke-width="1.55"/>
<circle cx="1076.90" cy="128.60" r="7.40" fill="#fff" stroke="#0a0a0a" stroke-width="1.55"/>
<circle cx="1108.10" cy="159.20" r="7.40" fill="#fff" stroke="#0a0a0a" stroke-width="1.55"/>
<circle cx="1154.90" cy="192.00" r="7.40" fill="#fff" stroke="#0a0a0a" stroke-width="1.55"/>
<circle cx="1201.70" cy="221.50" r="7.40" fill="#fff" stroke="#0a0a0a" stroke-width="1.55"/>
<g transform="translate(56.00 357.54) rotate(-90) scale(1.0182 1)" fill="#0a0a0a" stroke="#0a0a0a"><text x="0.000" font-size="25.50" font-weight="bold" stroke-width="0.50">Mean Choice Accuracy</text></g>
<g transform="translate(83.70 296.34) rotate(-90) scale(1.0634 1)" fill="#0a0a0a" stroke="#0a0a0a"><text x="0.000" font-size="20.30" font-weight="normal" stroke-width="0.60">(% Correct ± SE)</text></g>
<line x1="1224.60" y1="84.80" x2="1264.90" y2="84.80" stroke="#0a0a0a" stroke-width="3.60" stroke-linecap="butt"/>
<circle cx="1244.50" cy="84.60" r="7.00" fill="#fff" stroke="#0a0a0a" stroke-width="1.50"/>
<g transform="translate(1287.43 92.34) scale(0.9745 1)" fill="#0a0a0a" stroke="#0a0a0a"><text x="0.000" font-size="26.27" font-weight="normal" stroke-width="0.60">UNS</text></g>
<line x1="1224.60" y1="129.40" x2="1264.90" y2="129.40" stroke="#0a0a0a" stroke-width="3.60" stroke-linecap="butt"/>
<circle cx="1244.50" cy="129.40" r="7.00" fill="#0a0a0a" stroke="none" stroke-width="0.00"/>
<g transform="translate(1288.11 137.56) scale(1.0262 1)" fill="#0a0a0a" stroke="#0a0a0a"><text x="0.000" font-size="24.72" font-weight="normal" stroke-width="0.60">CVS</text></g>
<g transform="translate(3.46 486.30) scale(0.9166 1)" fill="#0a0a0a" stroke="#0a0a0a"><text x="0.000" font-size="18.60" font-weight="bold" stroke-width="1.10">B</text></g>
<line x1="123.00" y1="508.80" x2="123.00" y2="822.10" stroke="#0a0a0a" stroke-width="3.60" stroke-linecap="butt"/>
<line x1="329.50" y1="508.80" x2="329.50" y2="822.10" stroke="#0a0a0a" stroke-width="3.60" stroke-linecap="butt"/>
<line x1="257.30" y1="510.40" x2="257.30" y2="820.50" stroke="#0a0a0a" stroke-width="3.60" stroke-linecap="butt"/>
<line x1="121.40" y1="510.40" x2="331.10" y2="510.40" stroke="#0a0a0a" stroke-width="3.60" stroke-linecap="butt"/>
<line x1="121.40" y1="820.50" x2="331.10" y2="820.50" stroke="#0a0a0a" stroke-width="3.60" stroke-linecap="butt"/>
<line x1="106.00" y1="510.40" x2="123.00" y2="510.40" stroke="#0a0a0a" stroke-width="3.60" stroke-linecap="butt"/>
<g transform="translate(58.19 519.63) scale(0.9700 1)" fill="#0a0a0a" stroke="#0a0a0a"><path transform="translate(0.000 0) scale(0.01309 -0.01309)" d="M478 0L478 1170L140 959L140 1180L493 1409L759 1409L759 0Z" stroke-width="38.21"/><text x="14.905" font-size="26.80" font-weight="bold" stroke-width="0.50">00</text></g>
<line x1="106.00" y1="587.92" x2="123.00" y2="587.92" stroke="#0a0a0a" stroke-width="3.60" stroke-linecap="butt"/>
<g transform="translate(72.65 597.15) scale(0.9700 1)" fill="#0a0a0a" stroke="#0a0a0a"><text x="0.000" font-size="26.80" font-weight="bold" stroke-width="0.50">90</text></g>
<line x1="106.00" y1="665.45" x2="123.00" y2="665.45" stroke="#0a0a0a" stroke-width="3.60" stroke-linecap="butt"/>
<g transform="translate(72.65 674.68) scale(0.9700 1)" fill="#0a0a0a" stroke="#0a0a0a"><text x="0.000" font-size="26.80" font-weight="bold" stroke-width="0.50">80</text></g>
<line x1="106.00" y1="742.97" x2="123.00" y2="742.97" stroke="#0a0a0a" stroke-width="3.60" stroke-linecap="butt"/>
<g transform="translate(72.65 752.20) scale(0.9700 1)" fill="#0a0a0a" stroke="#0a0a0a"><text x="0.000" font-size="26.80" font-weight="bold" stroke-width="0.50">70</text></g>
<line x1="106.00" y1="820.50" x2="123.00" y2="820.50" stroke="#0a0a0a" stroke-width="3.60" stroke-linecap="butt"/>
<g transform="translate(72.65 829.73) scale(0.9700 1)" fill="#0a0a0a" stroke="#0a0a0a"><text x="0.000" font-size="26.80" font-weight="bold" stroke-width="0.50">60</text></g>
<line x1="329.50" y1="549.50" x2="345.00" y2="549.50" stroke="#0a0a0a" stroke-width="3.60" stroke-linecap="butt"/>
<g transform="translate(354.61 558.62) scale(0.9900 1)" fill="#0a0a0a" stroke="#0a0a0a"><path transform="translate(0.000 0) scale(0.01294 -0.01294)" d="M478 0L478 1170L140 959L140 1180L493 1409L759 1409L759 0Z" stroke-width="38.64"/><text x="14.738" font-size="26.50" font-weight="bold" stroke-width="0.50">0</text></g>
<line x1="329.50" y1="627.20" x2="345.00" y2="627.20" stroke="#0a0a0a" stroke-width="3.60" stroke-linecap="butt"/>
<g transform="translate(355.36 636.32) scale(0.9900 1)" fill="#0a0a0a" stroke="#0a0a0a"><text x="0.000" font-size="26.50" font-weight="bold" stroke-width="0.50">0</text></g>
<line x1="329.50" y1="704.90" x2="345.00" y2="704.90" stroke="#0a0a0a" stroke-width="3.60" stroke-linecap="butt"/>
<g transform="translate(355.38 714.02) scale(0.9900 1)" fill="#0a0a0a" stroke="#0a0a0a"><text x="0.000" font-size="26.50" font-weight="bold" stroke-width="0.50">-</text><path transform="translate(8.825 0) scale(0.01294 -0.01294)" d="M478 0L478 1170L140 959L140 1180L493 1409L759 1409L759 0Z" stroke-width="38.64"/><text x="23.563" font-size="26.50" font-weight="bold" stroke-width="0.50">0</text></g>
<line x1="329.50" y1="782.60" x2="345.00" y2="782.60" stroke="#0a0a0a" stroke-width="3.60" stroke-linecap="butt"/>
<g transform="translate(355.38 791.72) scale(0.9900 1)" fill="#0a0a0a" stroke="#0a0a0a"><text x="0.000" font-size="26.50" font-weight="bold" stroke-width="0.50">-20</text></g>
<line x1="163.80" y1="820.50" x2="163.80" y2="836.50" stroke="#0a0a0a" stroke-width="3.60" stroke-linecap="butt"/>
<line x1="226.60" y1="820.50" x2="226.60" y2="836.50" stroke="#0a0a0a" stroke-width="3.60" stroke-linecap="butt"/>
<line x1="289.30" y1="820.50" x2="289.30" y2="836.50" stroke="#0a0a0a" stroke-width="3.60" stroke-linecap="butt"/>
<g transform="translate(135.80 865.33) scale(0.9591 1)" fill="#0a0a0a" stroke="#0a0a0a"><text x="0.000" font-size="27.82" font-weight="bold" stroke-width="0.50">UNS</text></g>
<g transform="translate(199.23 865.53) scale(0.9561 1)" fill="#0a0a0a" stroke="#0a0a0a"><text x="0.000" font-size="27.26" font-weight="bold" stroke-width="0.50">CVS</text></g>
<g transform="translate(278.48 865.80) scale(0.9846 1)" fill="#0a0a0a" stroke="#0a0a0a"><text x="0.000" font-size="28.05" font-weight="bold" stroke-width="0.50">Δ</text></g>
<g transform="translate(26.40 777.02) rotate(-90) scale(1.0703 1)" fill="#0a0a0a" stroke="#0a0a0a"><text x="0.000" font-size="25.50" font-weight="bold" stroke-width="0.50">Choice Accuracy</text></g>
<g transform="translate(55.30 759.92) rotate(-90) scale(1.1243 1)" fill="#0a0a0a" stroke="#0a0a0a"><text x="0.000" font-size="20.30" font-weight="normal" stroke-width="0.60">(% Correct 8-24 s)</text></g>
<circle cx="134.40" cy="627.00" r="1.85" fill="#0a0a0a"/>
<circle cx="146.00" cy="627.00" r="1.85" fill="#0a0a0a"/>
<circle cx="157.60" cy="627.00" r="1.85" fill="#0a0a0a"/>
<circle cx="169.20" cy="627.00" r="1.85" fill="#0a0a0a"/>
<circle cx="180.80" cy="627.00" r="1.85" fill="#0a0a0a"/>
<circle cx="192.40" cy="627.00" r="1.85" fill="#0a0a0a"/>
<circle cx="204.00" cy="627.00" r="1.85" fill="#0a0a0a"/>
<circle cx="215.60" cy="627.00" r="1.85" fill="#0a0a0a"/>
<circle cx="227.20" cy="627.00" r="1.85" fill="#0a0a0a"/>
<circle cx="238.80" cy="627.00" r="1.85" fill="#0a0a0a"/>
<circle cx="250.40" cy="627.00" r="1.85" fill="#0a0a0a"/>
<circle cx="262.00" cy="627.00" r="1.85" fill="#0a0a0a"/>
<circle cx="273.60" cy="627.00" r="1.85" fill="#0a0a0a"/>
<circle cx="285.20" cy="627.00" r="1.85" fill="#0a0a0a"/>
<circle cx="296.80" cy="627.00" r="1.85" fill="#0a0a0a"/>
<circle cx="308.40" cy="627.00" r="1.85" fill="#0a0a0a"/>
<circle cx="320.00" cy="627.00" r="1.85" fill="#0a0a0a"/>
<circle cx="134.40" cy="673.40" r="1.85" fill="#0a0a0a"/>
<circle cx="146.00" cy="673.40" r="1.85" fill="#0a0a0a"/>
<circle cx="157.60" cy="673.40" r="1.85" fill="#0a0a0a"/>
<circle cx="169.20" cy="673.40" r="1.85" fill="#0a0a0a"/>
<circle cx="180.80" cy="673.40" r="1.85" fill="#0a0a0a"/>
<circle cx="192.40" cy="673.40" r="1.85" fill="#0a0a0a"/>
<circle cx="204.00" cy="673.40" r="1.85" fill="#0a0a0a"/>
<circle cx="215.60" cy="673.40" r="1.85" fill="#0a0a0a"/>
<circle cx="227.20" cy="673.40" r="1.85" fill="#0a0a0a"/>
<circle cx="238.80" cy="673.40" r="1.85" fill="#0a0a0a"/>
<circle cx="250.40" cy="673.40" r="1.85" fill="#0a0a0a"/>
<circle cx="262.00" cy="673.40" r="1.85" fill="#0a0a0a"/>
<circle cx="273.60" cy="673.40" r="1.85" fill="#0a0a0a"/>
<circle cx="285.20" cy="673.40" r="1.85" fill="#0a0a0a"/>
<circle cx="296.80" cy="673.40" r="1.85" fill="#0a0a0a"/>
<circle cx="308.40" cy="673.40" r="1.85" fill="#0a0a0a"/>
<circle cx="320.00" cy="673.40" r="1.85" fill="#0a0a0a"/>
<line x1="143.70" y1="627.10" x2="184.30" y2="627.10" stroke="#0a0a0a" stroke-width="3.60" stroke-linecap="butt"/>
<circle cx="164.50" cy="547.70" r="7.45" fill="#fff" stroke="#0a0a0a" stroke-width="1.75"/>
<circle cx="164.50" cy="568.10" r="7.45" fill="#fff" stroke="#0a0a0a" stroke-width="1.75"/>
<circle cx="164.50" cy="596.50" r="7.45" fill="#fff" stroke="#0a0a0a" stroke-width="1.75"/>
<circle cx="151.10" cy="610.50" r="7.45" fill="#fff" stroke="#0a0a0a" stroke-width="1.75"/>
<circle cx="163.80" cy="618.40" r="7.45" fill="#fff" stroke="#0a0a0a" stroke-width="1.75"/>
<circle cx="177.30" cy="621.40" r="7.45" fill="#fff" stroke="#0a0a0a" stroke-width="1.75"/>
<circle cx="151.10" cy="635.80" r="7.45" fill="#fff" stroke="#0a0a0a" stroke-width="1.75"/>
<circle cx="164.20" cy="637.10" r="7.45" fill="#fff" stroke="#0a0a0a" stroke-width="1.75"/>
<circle cx="151.10" cy="656.40" r="7.45" fill="#fff" stroke="#0a0a0a" stroke-width="1.75"/>
<circle cx="177.30" cy="660.80" r="7.45" fill="#fff" stroke="#0a0a0a" stroke-width="1.75"/>
<circle cx="164.20" cy="669.90" r="7.45" fill="#fff" stroke="#0a0a0a" stroke-width="1.75"/>
<circle cx="164.50" cy="705.10" r="7.45" fill="#fff" stroke="#0a0a0a" stroke-width="1.75"/>
<line x1="203.00" y1="673.60" x2="247.00" y2="673.60" stroke="#0a0a0a" stroke-width="3.60" stroke-linecap="butt"/>
<circle cx="225.80" cy="603.00" r="7.45" fill="#0a0a0a" stroke="#fff" stroke-width="0.80"/>
<circle cx="225.80" cy="628.20" r="7.45" fill="#0a0a0a" stroke="#fff" stroke-width="0.80"/>
<circle cx="224.60" cy="657.00" r="7.45" fill="#0a0a0a" stroke="#fff" stroke-width="0.80"/>
<circle cx="216.20" cy="660.50" r="7.45" fill="#0a0a0a" stroke="#fff" stroke-width="0.80"/>
<circle cx="236.80" cy="656.20" r="7.45" fill="#0a0a0a" stroke="#fff" stroke-width="0.80"/>
<circle cx="229.70" cy="666.80" r="7.45" fill="#0a0a0a" stroke="#fff" stroke-width="0.80"/>
<circle cx="212.90" cy="692.70" r="7.45" fill="#0a0a0a" stroke="#fff" stroke-width="0.80"/>
<circle cx="226.30" cy="690.50" r="7.45" fill="#0a0a0a" stroke="#fff" stroke-width="0.80"/>
<circle cx="241.00" cy="694.50" r="7.45" fill="#0a0a0a" stroke="#fff" stroke-width="0.80"/>
<circle cx="219.20" cy="697.10" r="7.45" fill="#0a0a0a" stroke="#fff" stroke-width="0.80"/>
<circle cx="232.30" cy="697.80" r="7.45" fill="#0a0a0a" stroke="#fff" stroke-width="0.80"/>
<circle cx="225.80" cy="731.60" r="7.45" fill="#0a0a0a" stroke="#fff" stroke-width="0.80"/>
<line x1="288.60" y1="640.00" x2="288.60" y2="707.00" stroke="#e8161b" stroke-width="3.70" stroke-linecap="butt"/>
<line x1="280.70" y1="640.00" x2="296.50" y2="640.00" stroke="#e8161b" stroke-width="4.20" stroke-linecap="butt"/>
<line x1="280.70" y1="707.00" x2="296.50" y2="707.00" stroke="#e8161b" stroke-width="4.20" stroke-linecap="butt"/>
<circle cx="288.6" cy="673.4" r="8.2" fill="#e8161b" fill-opacity="0.8" stroke="#e8161b" stroke-width="1.6"/>
<g transform="translate(399.10 571.34) rotate(90) scale(0.9591 1)" fill="#e8161b" stroke="#e8161b"><text x="0.000" font-size="27.33" font-weight="bold" stroke-width="0.50">Δ</text></g>
<g transform="translate(393.29 591.85) rotate(90) scale(1.0490 1)" fill="#e8161b" stroke="#e8161b"><text x="0.000" font-size="19.20" font-weight="bold" stroke-width="0.50">Mean</text></g>
<g transform="translate(399.60 651.82) rotate(90) scale(0.8802 1)" fill="#e8161b" stroke="#e8161b"><text x="0.000" font-size="27.41" font-weight="bold" stroke-width="0.50">±</text></g>
<g transform="translate(399.85 673.64) rotate(90) scale(0.9558 1)" fill="#e8161b" stroke="#e8161b"><text x="0.000" font-size="25.99" font-weight="bold" stroke-width="0.50">95%</text></g>
<g transform="translate(399.85 733.86) rotate(90) scale(0.9748 1)" fill="#e8161b" stroke="#e8161b"><text x="0.000" font-size="25.99" font-weight="bold" stroke-width="0.50">CI</text></g>
<g transform="translate(446.54 486.51) scale(0.8361 1)" fill="#0a0a0a" stroke="#0a0a0a"><text x="0.000" font-size="19.21" font-weight="bold" stroke-width="1.10">C</text></g>
<line x1="589.00" y1="507.90" x2="589.00" y2="822.60" stroke="#0a0a0a" stroke-width="3.60" stroke-linecap="butt"/>
<line x1="587.40" y1="821.00" x2="902.50" y2="821.00" stroke="#0a0a0a" stroke-width="3.60" stroke-linecap="butt"/>
<line x1="572.00" y1="509.50" x2="589.00" y2="509.50" stroke="#0a0a0a" stroke-width="3.60" stroke-linecap="butt"/>
<g transform="translate(524.65 518.59) scale(0.9700 1)" fill="#0a0a0a" stroke="#0a0a0a"><path transform="translate(0.000 0) scale(0.01309 -0.01309)" d="M478 0L478 1170L140 959L140 1180L493 1409L759 1409L759 0Z" stroke-width="38.21"/><text x="14.905" font-size="26.80" font-weight="bold" stroke-width="0.50">75</text></g>
<line x1="572.00" y1="561.42" x2="589.00" y2="561.42" stroke="#0a0a0a" stroke-width="3.60" stroke-linecap="butt"/>
<g transform="translate(524.99 570.64) scale(0.9700 1)" fill="#0a0a0a" stroke="#0a0a0a"><path transform="translate(0.000 0) scale(0.01309 -0.01309)" d="M478 0L478 1170L140 959L140 1180L493 1409L759 1409L759 0Z" stroke-width="38.21"/><text x="14.905" font-size="26.80" font-weight="bold" stroke-width="0.50">50</text></g>
<line x1="572.00" y1="613.33" x2="589.00" y2="613.33" stroke="#0a0a0a" stroke-width="3.60" stroke-linecap="butt"/>
<g transform="translate(524.65 622.56) scale(0.9700 1)" fill="#0a0a0a" stroke="#0a0a0a"><path transform="translate(0.000 0) scale(0.01309 -0.01309)" d="M478 0L478 1170L140 959L140 1180L493 1409L759 1409L759 0Z" stroke-width="38.21"/><text x="14.905" font-size="26.80" font-weight="bold" stroke-width="0.50">25</text></g>
<line x1="572.00" y1="665.25" x2="589.00" y2="665.25" stroke="#0a0a0a" stroke-width="3.60" stroke-linecap="butt"/>
<g transform="translate(524.99 674.48) scale(0.9700 1)" fill="#0a0a0a" stroke="#0a0a0a"><path transform="translate(0.000 0) scale(0.01309 -0.01309)" d="M478 0L478 1170L140 959L140 1180L493 1409L759 1409L759 0Z" stroke-width="38.21"/><text x="14.905" font-size="26.80" font-weight="bold" stroke-width="0.50">00</text></g>
<line x1="572.00" y1="717.17" x2="589.00" y2="717.17" stroke="#0a0a0a" stroke-width="3.60" stroke-linecap="butt"/>
<g transform="translate(539.11 726.25) scale(0.9700 1)" fill="#0a0a0a" stroke="#0a0a0a"><text x="0.000" font-size="26.80" font-weight="bold" stroke-width="0.50">75</text></g>
<line x1="572.00" y1="769.08" x2="589.00" y2="769.08" stroke="#0a0a0a" stroke-width="3.60" stroke-linecap="butt"/>
<g transform="translate(539.45 778.31) scale(0.9700 1)" fill="#0a0a0a" stroke="#0a0a0a"><text x="0.000" font-size="26.80" font-weight="bold" stroke-width="0.50">50</text></g>
<line x1="572.00" y1="821.00" x2="589.00" y2="821.00" stroke="#0a0a0a" stroke-width="3.60" stroke-linecap="butt"/>
<g transform="translate(539.11 830.23) scale(0.9700 1)" fill="#0a0a0a" stroke="#0a0a0a"><text x="0.000" font-size="26.80" font-weight="bold" stroke-width="0.50">25</text></g>
<line x1="636.40" y1="821.00" x2="636.40" y2="837.00" stroke="#0a0a0a" stroke-width="3.60" stroke-linecap="butt"/>
<line x1="708.50" y1="821.00" x2="708.50" y2="837.00" stroke="#0a0a0a" stroke-width="3.60" stroke-linecap="butt"/>
<line x1="780.30" y1="821.00" x2="780.30" y2="837.00" stroke="#0a0a0a" stroke-width="3.60" stroke-linecap="butt"/>
<line x1="852.30" y1="821.00" x2="852.30" y2="837.00" stroke="#0a0a0a" stroke-width="3.60" stroke-linecap="butt"/>
<g transform="translate(615.14 865.54) scale(0.9698 1)" fill="#0a0a0a" stroke="#0a0a0a"><text x="0.000" font-size="27.09" font-weight="bold" stroke-width="0.50">Pre</text></g>
<g transform="translate(689.50 865.50) scale(0.9485 1)" fill="#0a0a0a" stroke="#0a0a0a"><path transform="translate(0.000 0) scale(0.01356 -0.01356)" d="M478 0L478 1170L140 959L140 1180L493 1409L759 1409L759 0Z" stroke-width="36.88"/><text x="15.440" font-size="27.76" font-weight="bold" stroke-width="0.50">-7</text></g>
<g transform="translate(753.77 865.74) scale(0.9699 1)" fill="#0a0a0a" stroke="#0a0a0a"><text x="0.000" font-size="26.98" font-weight="bold" stroke-width="0.50">8-</text><path transform="translate(23.987 0) scale(0.01317 -0.01317)" d="M478 0L478 1170L140 959L140 1180L493 1409L759 1409L759 0Z" stroke-width="37.96"/><text x="38.990" font-size="26.98" font-weight="bold" stroke-width="0.50">4</text></g>
<g transform="translate(818.45 865.74) scale(1.0025 1)" fill="#0a0a0a" stroke="#0a0a0a"><path transform="translate(0.000 0) scale(0.01317 -0.01317)" d="M478 0L478 1170L140 959L140 1180L493 1409L759 1409L759 0Z" stroke-width="37.96"/><text x="15.003" font-size="26.98" font-weight="bold" stroke-width="0.50">5-2</text><path transform="translate(53.994 0) scale(0.01317 -0.01317)" d="M478 0L478 1170L140 959L140 1180L493 1409L759 1409L759 0Z" stroke-width="37.96"/></g>
<g transform="translate(647.62 906.30) scale(1.0442 1)" fill="#0a0a0a" stroke="#0a0a0a"><text x="0.000" font-size="25.50" font-weight="bold" stroke-width="0.50">Post-CVS Days</text></g>
<g transform="translate(484.10 813.80) rotate(-90) scale(1.0524 1)" fill="#0a0a0a" stroke="#0a0a0a"><text x="0.000" font-size="25.50" font-weight="bold" stroke-width="0.50">Mean Trials Completed</text></g>
<g transform="translate(512.70 695.56) rotate(-90) scale(0.9970 1)" fill="#0a0a0a" stroke="#0a0a0a"><text x="0.000" font-size="20.30" font-weight="normal" stroke-width="0.60">(± SE)</text></g>
<polyline points="636.40,593.60 708.50,609.80 780.30,633.40 852.30,697.60" fill="none" stroke="#0a0a0a" stroke-width="3.20" stroke-linejoin="round"/>
<line x1="708.50" y1="600.00" x2="708.50" y2="619.80" stroke="#0a0a0a" stroke-width="3.00" stroke-linecap="butt"/>
<line x1="700.90" y1="600.00" x2="716.10" y2="600.00" stroke="#0a0a0a" stroke-width="3.40" stroke-linecap="butt"/>
<line x1="700.90" y1="619.80" x2="716.10" y2="619.80" stroke="#0a0a0a" stroke-width="3.40" stroke-linecap="butt"/>
<line x1="780.30" y1="620.90" x2="780.30" y2="645.20" stroke="#0a0a0a" stroke-width="3.00" stroke-linecap="butt"/>
<line x1="772.70" y1="620.90" x2="787.90" y2="620.90" stroke="#0a0a0a" stroke-width="3.40" stroke-linecap="butt"/>
<line x1="772.70" y1="645.20" x2="787.90" y2="645.20" stroke="#0a0a0a" stroke-width="3.40" stroke-linecap="butt"/>
<line x1="852.30" y1="680.30" x2="852.30" y2="715.30" stroke="#0a0a0a" stroke-width="3.00" stroke-linecap="butt"/>
<line x1="844.70" y1="680.30" x2="859.90" y2="680.30" stroke="#0a0a0a" stroke-width="3.40" stroke-linecap="butt"/>
<line x1="844.70" y1="715.30" x2="859.90" y2="715.30" stroke="#0a0a0a" stroke-width="3.40" stroke-linecap="butt"/>
<circle cx="708.50" cy="609.80" r="7.00" fill="#0a0a0a" stroke="none" stroke-width="0.00"/>
<circle cx="780.30" cy="633.40" r="7.00" fill="#0a0a0a" stroke="none" stroke-width="0.00"/>
<circle cx="852.30" cy="697.60" r="7.00" fill="#0a0a0a" stroke="none" stroke-width="0.00"/>
<polyline points="636.40,593.60 708.50,595.40 780.30,598.00 852.30,600.10" fill="none" stroke="#0a0a0a" stroke-width="3.20" stroke-linejoin="round"/>
<circle cx="636.40" cy="593.60" r="7.30" fill="#fff" stroke="#0a0a0a" stroke-width="1.60"/>
<circle cx="708.50" cy="595.40" r="7.30" fill="#fff" stroke="#0a0a0a" stroke-width="1.60"/>
<circle cx="780.30" cy="598.00" r="7.30" fill="#fff" stroke="#0a0a0a" stroke-width="1.60"/>
<circle cx="852.30" cy="600.10" r="7.30" fill="#fff" stroke="#0a0a0a" stroke-width="1.60"/>
<g transform="translate(774.80 677.57) scale(1.0412 1)" fill="#e8161b" stroke="#e8161b"><text x="0.000" font-size="34.40" font-weight="bold" stroke-width="0.50">*</text></g>
<g transform="translate(828.49 744.57) scale(1.0865 1)" fill="#e8161b" stroke="#e8161b"><text x="0.000" font-size="34.40" font-weight="bold" stroke-width="0.50">*</text></g>
<g transform="translate(845.09 744.57) scale(1.0865 1)" fill="#e8161b" stroke="#e8161b"><text x="0.000" font-size="34.40" font-weight="bold" stroke-width="0.50">*</text></g>
<g transform="translate(861.69 744.57) scale(1.0865 1)" fill="#e8161b" stroke="#e8161b"><text x="0.000" font-size="34.40" font-weight="bold" stroke-width="0.50">*</text></g>
<line x1="608.80" y1="746.30" x2="650.00" y2="746.30" stroke="#0a0a0a" stroke-width="3.50" stroke-linecap="butt"/>
<circle cx="629.70" cy="746.90" r="7.50" fill="#fff" stroke="#0a0a0a" stroke-width="1.70"/>
<g transform="translate(673.35 754.84) scale(1.0163 1)" fill="#0a0a0a" stroke="#0a0a0a"><text x="0.000" font-size="26.13" font-weight="normal" stroke-width="0.60">UNS</text></g>
<line x1="608.80" y1="793.00" x2="650.00" y2="793.00" stroke="#0a0a0a" stroke-width="3.50" stroke-linecap="butt"/>
<circle cx="629.30" cy="793.10" r="7.10" fill="#0a0a0a" stroke="none" stroke-width="0.00"/>
<g transform="translate(673.46 801.15) scale(1.0172 1)" fill="#0a0a0a" stroke="#0a0a0a"><text x="0.000" font-size="25.99" font-weight="normal" stroke-width="0.60">CVS</text></g>
<g transform="translate(932.45 486.30) scale(0.9202 1)" fill="#0a0a0a" stroke="#0a0a0a"><text x="0.000" font-size="18.60" font-weight="bold" stroke-width="1.10">D</text></g>
<line x1="1035.30" y1="508.60" x2="1035.30" y2="821.30" stroke="#0a0a0a" stroke-width="3.60" stroke-linecap="butt"/>
<line x1="1242.00" y1="508.60" x2="1242.00" y2="821.30" stroke="#0a0a0a" stroke-width="3.60" stroke-linecap="butt"/>
<line x1="1169.00" y1="510.20" x2="1169.00" y2="819.70" stroke="#0a0a0a" stroke-width="3.60" stroke-linecap="butt"/>
<line x1="1033.70" y1="510.20" x2="1243.60" y2="510.20" stroke="#0a0a0a" stroke-width="3.60" stroke-linecap="butt"/>
<line x1="1033.70" y1="819.70" x2="1243.60" y2="819.70" stroke="#0a0a0a" stroke-width="3.60" stroke-linecap="butt"/>
<line x1="1018.30" y1="510.20" x2="1035.30" y2="510.20" stroke="#0a0a0a" stroke-width="3.60" stroke-linecap="butt"/>
<g transform="translate(970.15 519.29) scale(0.9700 1)" fill="#0a0a0a" stroke="#0a0a0a"><path transform="translate(0.000 0) scale(0.01309 -0.01309)" d="M478 0L478 1170L140 959L140 1180L493 1409L759 1409L759 0Z" stroke-width="38.21"/><text x="14.905" font-size="26.80" font-weight="bold" stroke-width="0.50">75</text></g>
<line x1="1018.30" y1="561.78" x2="1035.30" y2="561.78" stroke="#0a0a0a" stroke-width="3.60" stroke-linecap="butt"/>
<g transform="translate(970.49 571.01) scale(0.9700 1)" fill="#0a0a0a" stroke="#0a0a0a"><path transform="translate(0.000 0) scale(0.01309 -0.01309)" d="M478 0L478 1170L140 959L140 1180L493 1409L759 1409L759 0Z" stroke-width="38.21"/><text x="14.905" font-size="26.80" font-weight="bold" stroke-width="0.50">50</text></g>
<line x1="1018.30" y1="613.37" x2="1035.30" y2="613.37" stroke="#0a0a0a" stroke-width="3.60" stroke-linecap="butt"/>
<g transform="translate(970.15 622.59) scale(0.9700 1)" fill="#0a0a0a" stroke="#0a0a0a"><path transform="translate(0.000 0) scale(0.01309 -0.01309)" d="M478 0L478 1170L140 959L140 1180L493 1409L759 1409L759 0Z" stroke-width="38.21"/><text x="14.905" font-size="26.80" font-weight="bold" stroke-width="0.50">25</text></g>
<line x1="1018.30" y1="664.95" x2="1035.30" y2="664.95" stroke="#0a0a0a" stroke-width="3.60" stroke-linecap="butt"/>
<g transform="translate(970.49 674.18) scale(0.9700 1)" fill="#0a0a0a" stroke="#0a0a0a"><path transform="translate(0.000 0) scale(0.01309 -0.01309)" d="M478 0L478 1170L140 959L140 1180L493 1409L759 1409L759 0Z" stroke-width="38.21"/><text x="14.905" font-size="26.80" font-weight="bold" stroke-width="0.50">00</text></g>
<line x1="1018.30" y1="716.53" x2="1035.30" y2="716.53" stroke="#0a0a0a" stroke-width="3.60" stroke-linecap="butt"/>
<g transform="translate(984.61 725.62) scale(0.9700 1)" fill="#0a0a0a" stroke="#0a0a0a"><text x="0.000" font-size="26.80" font-weight="bold" stroke-width="0.50">75</text></g>
<line x1="1018.30" y1="768.12" x2="1035.30" y2="768.12" stroke="#0a0a0a" stroke-width="3.60" stroke-linecap="butt"/>
<g transform="translate(984.95 777.34) scale(0.9700 1)" fill="#0a0a0a" stroke="#0a0a0a"><text x="0.000" font-size="26.80" font-weight="bold" stroke-width="0.50">50</text></g>
<line x1="1018.30" y1="819.70" x2="1035.30" y2="819.70" stroke="#0a0a0a" stroke-width="3.60" stroke-linecap="butt"/>
<g transform="translate(984.61 828.93) scale(0.9700 1)" fill="#0a0a0a" stroke="#0a0a0a"><text x="0.000" font-size="26.80" font-weight="bold" stroke-width="0.50">25</text></g>
<line x1="1242.00" y1="547.00" x2="1257.50" y2="547.00" stroke="#0a0a0a" stroke-width="3.60" stroke-linecap="butt"/>
<g transform="translate(1266.88 556.12) scale(1.0000 1)" fill="#0a0a0a" stroke="#0a0a0a"><text x="0.000" font-size="26.50" font-weight="bold" stroke-width="0.50">25</text></g>
<line x1="1242.00" y1="599.16" x2="1257.50" y2="599.16" stroke="#0a0a0a" stroke-width="3.60" stroke-linecap="butt"/>
<g transform="translate(1266.75 608.28) scale(1.0000 1)" fill="#0a0a0a" stroke="#0a0a0a"><text x="0.000" font-size="26.50" font-weight="bold" stroke-width="0.50">0</text></g>
<line x1="1242.00" y1="651.32" x2="1257.50" y2="651.32" stroke="#0a0a0a" stroke-width="3.60" stroke-linecap="butt"/>
<g transform="translate(1266.76 660.44) scale(1.0000 1)" fill="#0a0a0a" stroke="#0a0a0a"><text x="0.000" font-size="26.50" font-weight="bold" stroke-width="0.50">-25</text></g>
<line x1="1242.00" y1="703.48" x2="1257.50" y2="703.48" stroke="#0a0a0a" stroke-width="3.60" stroke-linecap="butt"/>
<g transform="translate(1266.76 712.60) scale(1.0000 1)" fill="#0a0a0a" stroke="#0a0a0a"><text x="0.000" font-size="26.50" font-weight="bold" stroke-width="0.50">-50</text></g>
<line x1="1242.00" y1="755.64" x2="1257.50" y2="755.64" stroke="#0a0a0a" stroke-width="3.60" stroke-linecap="butt"/>
<g transform="translate(1266.76 764.63) scale(1.0000 1)" fill="#0a0a0a" stroke="#0a0a0a"><text x="0.000" font-size="26.50" font-weight="bold" stroke-width="0.50">-75</text></g>
<line x1="1242.00" y1="807.80" x2="1257.50" y2="807.80" stroke="#0a0a0a" stroke-width="3.60" stroke-linecap="butt"/>
<g transform="translate(1266.76 816.92) scale(1.0000 1)" fill="#0a0a0a" stroke="#0a0a0a"><text x="0.000" font-size="26.50" font-weight="bold" stroke-width="0.50">-</text><path transform="translate(8.825 0) scale(0.01294 -0.01294)" d="M478 0L478 1170L140 959L140 1180L493 1409L759 1409L759 0Z" stroke-width="38.64"/><text x="23.563" font-size="26.50" font-weight="bold" stroke-width="0.50">00</text></g>
<line x1="1076.20" y1="819.70" x2="1076.20" y2="835.70" stroke="#0a0a0a" stroke-width="3.60" stroke-linecap="butt"/>
<line x1="1138.70" y1="819.70" x2="1138.70" y2="835.70" stroke="#0a0a0a" stroke-width="3.60" stroke-linecap="butt"/>
<line x1="1200.70" y1="819.70" x2="1200.70" y2="835.70" stroke="#0a0a0a" stroke-width="3.60" stroke-linecap="butt"/>
<g transform="translate(1048.20 865.24) scale(1.0032 1)" fill="#0a0a0a" stroke="#0a0a0a"><text x="0.000" font-size="26.55" font-weight="bold" stroke-width="0.50">UNS</text></g>
<g transform="translate(1111.33 865.24) scale(0.9853 1)" fill="#0a0a0a" stroke="#0a0a0a"><text x="0.000" font-size="26.55" font-weight="bold" stroke-width="0.50">CVS</text></g>
<g transform="translate(1190.88 865.50) scale(1.0108 1)" fill="#0a0a0a" stroke="#0a0a0a"><text x="0.000" font-size="27.33" font-weight="bold" stroke-width="0.50">Δ</text></g>
<g transform="translate(960.80 795.40) rotate(-90) scale(1.0446 1)" fill="#0a0a0a" stroke="#0a0a0a"><text x="0.000" font-size="25.50" font-weight="bold" stroke-width="0.50">Trials Completed (n)</text></g>
<circle cx="1047.30" cy="599.80" r="1.85" fill="#0a0a0a"/>
<circle cx="1058.90" cy="599.80" r="1.85" fill="#0a0a0a"/>
<circle cx="1070.50" cy="599.80" r="1.85" fill="#0a0a0a"/>
<circle cx="1082.10" cy="599.80" r="1.85" fill="#0a0a0a"/>
<circle cx="1093.70" cy="599.80" r="1.85" fill="#0a0a0a"/>
<circle cx="1105.30" cy="599.80" r="1.85" fill="#0a0a0a"/>
<circle cx="1116.90" cy="599.80" r="1.85" fill="#0a0a0a"/>
<circle cx="1128.50" cy="599.80" r="1.85" fill="#0a0a0a"/>
<circle cx="1140.10" cy="599.80" r="1.85" fill="#0a0a0a"/>
<circle cx="1151.70" cy="599.80" r="1.85" fill="#0a0a0a"/>
<circle cx="1163.30" cy="599.80" r="1.85" fill="#0a0a0a"/>
<circle cx="1174.90" cy="599.80" r="1.85" fill="#0a0a0a"/>
<circle cx="1186.50" cy="599.80" r="1.85" fill="#0a0a0a"/>
<circle cx="1198.10" cy="599.80" r="1.85" fill="#0a0a0a"/>
<circle cx="1209.70" cy="599.80" r="1.85" fill="#0a0a0a"/>
<circle cx="1221.30" cy="599.80" r="1.85" fill="#0a0a0a"/>
<circle cx="1232.90" cy="599.80" r="1.85" fill="#0a0a0a"/>
<circle cx="1047.30" cy="697.60" r="1.85" fill="#0a0a0a"/>
<circle cx="1058.90" cy="697.60" r="1.85" fill="#0a0a0a"/>
<circle cx="1070.50" cy="697.60" r="1.85" fill="#0a0a0a"/>
<circle cx="1082.10" cy="697.60" r="1.85" fill="#0a0a0a"/>
<circle cx="1093.70" cy="697.60" r="1.85" fill="#0a0a0a"/>
<circle cx="1105.30" cy="697.60" r="1.85" fill="#0a0a0a"/>
<circle cx="1116.90" cy="697.60" r="1.85" fill="#0a0a0a"/>
<circle cx="1128.50" cy="697.60" r="1.85" fill="#0a0a0a"/>
<circle cx="1140.10" cy="697.60" r="1.85" fill="#0a0a0a"/>
<circle cx="1151.70" cy="697.60" r="1.85" fill="#0a0a0a"/>
<circle cx="1163.30" cy="697.60" r="1.85" fill="#0a0a0a"/>
<circle cx="1174.90" cy="697.60" r="1.85" fill="#0a0a0a"/>
<circle cx="1186.50" cy="697.60" r="1.85" fill="#0a0a0a"/>
<circle cx="1198.10" cy="697.60" r="1.85" fill="#0a0a0a"/>
<circle cx="1209.70" cy="697.60" r="1.85" fill="#0a0a0a"/>
<circle cx="1221.30" cy="697.60" r="1.85" fill="#0a0a0a"/>
<circle cx="1232.90" cy="697.60" r="1.85" fill="#0a0a0a"/>
<line x1="1057.50" y1="599.80" x2="1096.00" y2="599.80" stroke="#0a0a0a" stroke-width="3.50" stroke-linecap="butt"/>
<circle cx="1076.60" cy="576.40" r="7.00" fill="#fff" stroke="#0a0a0a" stroke-width="1.70"/>
<circle cx="1084.00" cy="588.30" r="7.00" fill="#fff" stroke="#0a0a0a" stroke-width="1.70"/>
<circle cx="1071.00" cy="583.70" r="7.00" fill="#fff" stroke="#0a0a0a" stroke-width="1.70"/>
<circle cx="1061.40" cy="592.10" r="7.00" fill="#fff" stroke="#0a0a0a" stroke-width="1.70"/>
<circle cx="1073.70" cy="592.90" r="7.00" fill="#fff" stroke="#0a0a0a" stroke-width="1.70"/>
<circle cx="1079.00" cy="599.80" r="7.00" fill="#fff" stroke="#0a0a0a" stroke-width="1.70"/>
<circle cx="1089.70" cy="600.20" r="7.00" fill="#fff" stroke="#0a0a0a" stroke-width="1.70"/>
<circle cx="1068.30" cy="605.90" r="7.00" fill="#fff" stroke="#0a0a0a" stroke-width="1.70"/>
<circle cx="1082.80" cy="618.10" r="7.00" fill="#fff" stroke="#0a0a0a" stroke-width="1.70"/>
<circle cx="1071.40" cy="623.50" r="7.00" fill="#fff" stroke="#0a0a0a" stroke-width="1.70"/>
<line x1="1118.00" y1="697.60" x2="1160.00" y2="697.60" stroke="#0a0a0a" stroke-width="3.50" stroke-linecap="butt"/>
<circle cx="1138.70" cy="603.90" r="7.00" fill="#0a0a0a" stroke="#0a0a0a" stroke-width="0.80"/>
<circle cx="1125.70" cy="634.20" r="7.00" fill="#0a0a0a" stroke="#0a0a0a" stroke-width="0.80"/>
<circle cx="1151.40" cy="634.20" r="7.00" fill="#0a0a0a" stroke="#0a0a0a" stroke-width="0.80"/>
<circle cx="1151.40" cy="657.50" r="7.00" fill="#0a0a0a" stroke="#0a0a0a" stroke-width="0.80"/>
<circle cx="1125.70" cy="669.00" r="7.00" fill="#0a0a0a" stroke="#0a0a0a" stroke-width="0.80"/>
<circle cx="1125.70" cy="694.90" r="7.00" fill="#0a0a0a" stroke="#0a0a0a" stroke-width="0.80"/>
<circle cx="1125.70" cy="711.00" r="7.00" fill="#0a0a0a" stroke="#0a0a0a" stroke-width="0.80"/>
<circle cx="1151.40" cy="710.00" r="7.00" fill="#0a0a0a" stroke="#0a0a0a" stroke-width="0.80"/>
<circle cx="1125.70" cy="741.30" r="7.00" fill="#0a0a0a" stroke="#0a0a0a" stroke-width="0.80"/>
<circle cx="1151.40" cy="737.70" r="7.00" fill="#0a0a0a" stroke="#0a0a0a" stroke-width="0.80"/>
<circle cx="1151.40" cy="782.20" r="7.00" fill="#0a0a0a" stroke="#0a0a0a" stroke-width="0.80"/>
<circle cx="1125.70" cy="796.60" r="7.00" fill="#0a0a0a" stroke="#0a0a0a" stroke-width="0.80"/>
<line x1="1200.70" y1="660.60" x2="1200.70" y2="734.10" stroke="#e8161b" stroke-width="3.70" stroke-linecap="butt"/>
<line x1="1192.80" y1="660.60" x2="1208.60" y2="660.60" stroke="#e8161b" stroke-width="4.20" stroke-linecap="butt"/>
<line x1="1192.80" y1="734.10" x2="1208.60" y2="734.10" stroke="#e8161b" stroke-width="4.20" stroke-linecap="butt"/>
<circle cx="1200.7" cy="697.6" r="8.2" fill="#e8161b" fill-opacity="0.8" stroke="#e8161b" stroke-width="1.6"/>
<g transform="translate(1322.40 570.84) rotate(90) scale(0.9907 1)" fill="#e8161b" stroke="#e8161b"><text x="0.000" font-size="26.45" font-weight="bold" stroke-width="0.50">Δ</text></g>
<g transform="translate(1316.59 591.28) rotate(90) scale(1.0353 1)" fill="#e8161b" stroke="#e8161b"><text x="0.000" font-size="19.06" font-weight="bold" stroke-width="0.50">Mean</text></g>
<g transform="translate(1322.40 650.53) rotate(90) scale(0.8656 1)" fill="#e8161b" stroke="#e8161b"><text x="0.000" font-size="27.41" font-weight="bold" stroke-width="0.50">±</text></g>
<g transform="translate(1322.65 672.23) rotate(90) scale(0.9697 1)" fill="#e8161b" stroke="#e8161b"><text x="0.000" font-size="25.99" font-weight="bold" stroke-width="0.50">95%</text></g>
<g transform="translate(1322.65 733.86) rotate(90) scale(0.9748 1)" fill="#e8161b" stroke="#e8161b"><text x="0.000" font-size="25.99" font-weight="bold" stroke-width="0.50">CI</text></g>
</svg></body></html>
